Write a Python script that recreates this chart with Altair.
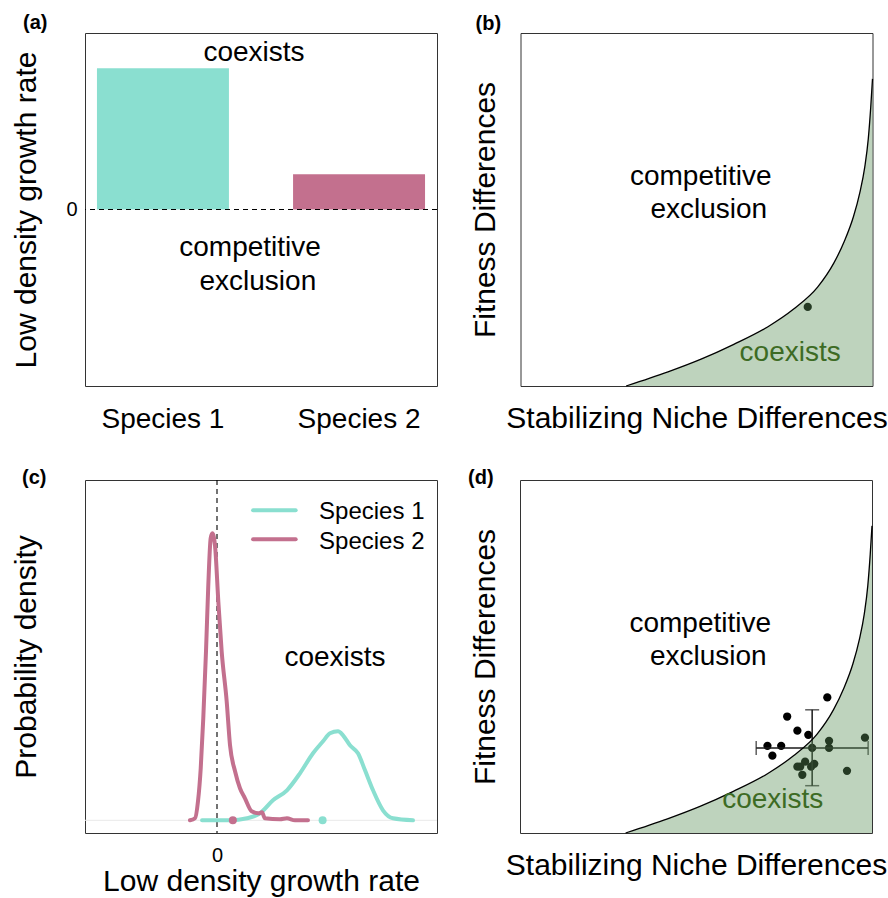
import altair as alt
import pandas as pd

FONT = "Liberation Sans"
TEAL = "#8adfd0"
PINK = "#c3708e"
SAGE = "#5c915a"       # semi-transparent fill of the coexistence region
GREEN_TXT = "#3d6b24"
INK = "#1a1a1a"

# ---------------- data ----------------
species = ["Species 1", "Species 2"]

# (a) low density growth rates
ldgr = [0.80, 0.20]
a_labels = ["coexists", "competitive", "exclusion"]
a_lx = [0.480, 0.469, 0.491]
a_ly = [0.840, -0.262, -0.454]

# (b), (d) coexistence boundary
bound_x = [0.300, 0.419, 0.513, 0.606, 0.703, 0.776, 0.844, 0.890, 0.920, 0.946, 0.964,
           0.978, 0.988, 0.995, 1.000]
bound_y = [0.000, 0.040, 0.076, 0.118, 0.168, 0.218, 0.280, 0.348, 0.410, 0.480, 0.548,
           0.620, 0.700, 0.790, 0.870]

# (b) single community
b_pt_x = [0.816]
b_pt_y = [0.224]

region_labels = ["competitive", "exclusion", "coexists"]
b_lx = [0.512, 0.535, 0.766]
b_ly = [0.569, 0.477, 0.071]
d_lx = [0.512, 0.535, 0.718]
d_ly = [0.569, 0.477, 0.071]

# (c) probability densities of low density growth rate
s1_x = [-0.170, 0.148, 0.341, 0.489, 0.636, 0.795, 0.943, 1.091, 1.205, 1.284, 1.375, 1.432,
        1.511, 1.602, 1.682, 1.773, 1.886, 2.000, 2.227]
s1_y = [0.00, 0.00, 0.02, 0.07, 0.20, 0.30, 0.47, 0.67, 0.79, 0.87, 0.89, 0.85,
        0.75, 0.67, 0.50, 0.30, 0.10, 0.02, 0.00]
s2_x = [-0.307, -0.250, -0.216, -0.185, -0.156, -0.125, -0.099, -0.072, -0.053, -0.023, 0.015,
        0.053, 0.110, 0.148, 0.205, 0.261, 0.318, 0.394, 0.470, 0.511, 0.545, 0.716, 0.795, 0.886, 1.034]
s2_y = [0.00, 0.02, 0.19, 0.52, 1.02, 1.69, 2.35, 2.82, 2.87, 2.75, 2.19,
        1.69, 1.19, 0.75, 0.49, 0.32, 0.22, 0.09, 0.07, 0.08, 0.02, 0.01, 0.02, 0.00, 0.00]
c_means = [1.20, 0.18]
c_lab_x, c_lab_y = [1.341], [1.547]
leg_y = [3.10, 2.81]
leg_ty = [3.016, 2.716]
LEG_X0, LEG_X1, LEG_TX = 0.41, 0.894, 1.16

# (d) communities
d_x = [0.873, 0.759, 0.788, 0.819, 0.703, 0.742, 0.717, 0.980, 0.878, 0.878, 0.830,
       0.796, 0.810, 0.836, 0.788, 0.827, 0.802, 0.929]
d_y = [0.384, 0.330, 0.290, 0.278, 0.247, 0.247, 0.219, 0.270, 0.261, 0.241, 0.241,
       0.188, 0.202, 0.196, 0.188, 0.188, 0.165, 0.176]
d_mean_x, d_mean_y = [0.830], [0.241]
d_x_lo, d_x_hi = [0.671], [0.989]
d_y_lo, d_y_hi = [0.134], [0.349]

W, H = 352, 353


def tag(text, dx, offset):
    return alt.TitleParams(text, anchor="start", frame="group", dx=dx, offset=offset,
                           baseline="alphabetic", fontSize=20, fontWeight="bold",
                           font=FONT, color="black")


sp_colors = alt.Scale(domain=species, range=[TEAL, PINK])

# ---------------- panel (a) ----------------
a_df = pd.DataFrame({"species": species, "rate": ldgr})
y_a = alt.Scale(domain=[-1, 1], nice=False, zero=False)
y_a_axis = alt.Axis(values=[0], title="Low density growth rate", titleFontSize=30,
                    labelFontSize=20, labelPadding=8, titlePadding=24,
                    ticks=False, tickSize=0, domain=False, grid=False)
bars = alt.Chart(a_df).mark_bar().encode(
    x=alt.X("species:N", sort=species,
            scale=alt.Scale(paddingInner=0.327, paddingOuter=0.061),
            axis=alt.Axis(title=None, labelAngle=0, labelFontSize=28, labelPadding=19,
                          ticks=False, tickSize=0, domain=False)),
    y=alt.Y("rate:Q", scale=y_a, axis=y_a_axis),
    color=alt.Color("species:N", scale=sp_colors, legend=None),
)
zero_a = alt.Chart(pd.DataFrame({"v": [0]})).mark_rule(
    strokeDash=[5, 4], color="black", strokeWidth=1
).encode(y=alt.Y("v:Q", scale=y_a, axis=y_a_axis))
text_a = alt.Chart(pd.DataFrame({"label": a_labels, "x": a_lx, "y": a_ly})).mark_text(
    fontSize=28, font=FONT, baseline="alphabetic", align="center", color="black"
).encode(
    x=alt.X("x:Q", scale=alt.Scale(domain=[0, 1], nice=False, zero=False), axis=None),
    y=alt.Y("y:Q", scale=y_a, axis=y_a_axis),
    text="label:N",
)
pa = alt.layer(bars, zero_a, text_a).resolve_scale(x="independent").properties(
    width=W, height=H, title=tag("(a)", -62, -16))

# ---------------- panels (b), (d) ----------------
xs = alt.Scale(domain=[0, 1], nice=False, zero=False)
ys = alt.Scale(domain=[0, 1], nice=False, zero=False)
bound_df = pd.DataFrame({"x": bound_x, "y": bound_y})
x_ax = alt.Axis(title="Stabilizing Niche Differences", titleFontSize=30, titlePadding=17,
                labels=False, ticks=False, domain=False, grid=False)
y_ax = alt.Axis(title="Fitness Differences", titleFontSize=30, titlePadding=20,
                labels=False, ticks=False, domain=False, grid=False)


def X(field):
    return alt.X(field, scale=xs, axis=x_ax)


def Y(field, **kw):
    return alt.Y(field, scale=ys, axis=y_ax, **kw)


def niche_panel(pt_x, pt_y, lx, ly, extra_layers, title):
    pts = alt.Chart(pd.DataFrame({"x": pt_x, "y": pt_y})).mark_circle(
        size=68, color="black", opacity=1
    ).encode(x=X("x:Q"), y=Y("y:Q"))
    area = alt.Chart(bound_df).mark_area(color=SAGE, opacity=0.4, interpolate="monotone").encode(
        x=X("x:Q"), y=Y("y:Q", stack=None))
    line = alt.Chart(bound_df).mark_line(color="black", strokeWidth=1.3, interpolate="monotone").encode(
        x=X("x:Q"), y=Y("y:Q"))
    lab_df = pd.DataFrame({"label": region_labels, "x": lx, "y": ly})
    txt_black = alt.Chart(lab_df).transform_filter(
        alt.datum.label != "coexists"
    ).mark_text(fontSize=28, font=FONT, baseline="alphabetic", align="center", color="black").encode(
        x=X("x:Q"), y=Y("y:Q"), text="label:N")
    txt_green = alt.Chart(lab_df).transform_filter(
        alt.datum.label == "coexists"
    ).mark_text(fontSize=28, font=FONT, baseline="alphabetic", align="center", color=GREEN_TXT).encode(
        x=X("x:Q"), y=Y("y:Q"), text="label:N")
    layers = [pts] + extra_layers + [area, line, txt_black, txt_green]
    return alt.layer(*layers).properties(width=W, height=H, title=title)


pb = niche_panel(b_pt_x, b_pt_y, b_lx, b_ly, [], tag("(b)", -45, -16.5))

eb_df = pd.DataFrame({"mx": d_mean_x, "my": d_mean_y, "xlo": d_x_lo, "xhi": d_x_hi,
                      "ylo": d_y_lo, "yhi": d_y_hi})
eb_h = alt.Chart(eb_df).mark_rule(color=INK, strokeWidth=1.5).encode(
    x=X("xlo:Q"), x2="xhi:Q", y=Y("my:Q"))
eb_v = alt.Chart(eb_df).mark_rule(color=INK, strokeWidth=1.5).encode(
    x=X("mx:Q"), y=Y("ylo:Q"), y2="yhi:Q")
cap_l = alt.Chart(eb_df).mark_tick(color=INK, orient="vertical", size=14, thickness=1.5).encode(
    x=X("xlo:Q"), y=Y("my:Q"))
cap_r = alt.Chart(eb_df).mark_tick(color=INK, orient="vertical", size=14, thickness=1.5).encode(
    x=X("xhi:Q"), y=Y("my:Q"))
cap_b = alt.Chart(eb_df).mark_tick(color=INK, orient="horizontal", size=14, thickness=1.5).encode(
    x=X("mx:Q"), y=Y("ylo:Q"))
cap_t = alt.Chart(eb_df).mark_tick(color=INK, orient="horizontal", size=14, thickness=1.5).encode(
    x=X("mx:Q"), y=Y("yhi:Q"))

pd_ = niche_panel(d_x, d_y, d_lx, d_ly, [eb_h, eb_v, cap_l, cap_r, cap_b, cap_t],
                  tag("(d)", -52, -23.5))

# ---------------- panel (c) ----------------
xc = alt.Scale(domain=[-1.5, 2.5], nice=False, zero=False)
yc = alt.Scale(domain=[-0.127, 3.403], nice=False, zero=False)
x_ax_c = alt.Axis(values=[0], title="Low density growth rate", titleFontSize=30, titlePadding=1,
                  labelFontSize=20, labelPadding=12.5, ticks=False, tickSize=0, domain=False, grid=False)
y_ax_c = alt.Axis(title="Probability density", titleFontSize=30, titlePadding=43.5,
                  labels=False, ticks=False, domain=False, grid=False)


def XC(field):
    return alt.X(field, scale=xc, axis=x_ax_c)


def YC(field):
    return alt.Y(field, scale=yc, axis=y_ax_c)


base_rule = alt.Chart(pd.DataFrame({"v": [0]})).mark_rule(color="#e9e9e9", strokeWidth=1).encode(
    y=YC("v:Q"))
dash_rule = alt.Chart(pd.DataFrame({"v": [0]})).mark_rule(
    color="black", strokeWidth=1.1, strokeDash=[5, 4]).encode(x=XC("v:Q"))

s1_df = pd.DataFrame({"x": s1_x, "y": s1_y, "species": species[0]})
s2_df = pd.DataFrame({"x": s2_x, "y": s2_y, "species": species[1]})
line1 = alt.Chart(s1_df).mark_line(strokeWidth=4, interpolate="monotone", strokeCap="round",
                                   strokeJoin="round").encode(
    x=XC("x:Q"), y=YC("y:Q"), color=alt.Color("species:N", scale=sp_colors, legend=None))
line2 = alt.Chart(s2_df).mark_line(strokeWidth=4, interpolate="monotone", strokeCap="round",
                                   strokeJoin="round").encode(
    x=XC("x:Q"), y=YC("y:Q"), color=alt.Color("species:N", scale=sp_colors, legend=None))
mean_df = pd.DataFrame({"species": species, "m": c_means, "z": [0, 0]})
means = alt.Chart(mean_df).mark_circle(size=64, opacity=1).encode(
    x=XC("m:Q"), y=YC("z:Q"), color=alt.Color("species:N", scale=sp_colors, legend=None))
leg_df = pd.DataFrame({"species": species, "y": leg_y, "ty": leg_ty,
                       "x0": [LEG_X0] * 2, "x1": [LEG_X1] * 2, "tx": [LEG_TX] * 2})
leg_lines = alt.Chart(leg_df).mark_rule(strokeWidth=4, strokeCap="round").encode(
    x=XC("x0:Q"), x2="x1:Q", y=YC("y:Q"),
    color=alt.Color("species:N", scale=sp_colors, legend=None))
leg_text = alt.Chart(leg_df).mark_text(fontSize=24, font=FONT, align="left", baseline="alphabetic",
                                       color="black").encode(
    x=XC("tx:Q"), y=YC("ty:Q"), text="species:N")
coex_c = alt.Chart(pd.DataFrame({"label": ["coexists"], "x": c_lab_x, "y": c_lab_y})).mark_text(
    fontSize=28, font=FONT, align="center", baseline="alphabetic", color="black").encode(
    x=XC("x:Q"), y=YC("y:Q"), text="label:N")

pc = alt.layer(base_rule, dash_rule, line1, line2, means, leg_lines, leg_text, coex_c).properties(
    width=W, height=H, title=tag("(c)", -63, -24.5))

# ---------------- layout ----------------
top = alt.hconcat(pa, pb, spacing=31.5)
bottom = alt.hconcat(pc, pd_, spacing=29)
chart = alt.vconcat(top, bottom, spacing=33).properties(
    padding={"left": 11, "top": 12, "right": 0, "bottom": 0},
    background="white",
).configure(font=FONT).configure_view(
    stroke="#333333", strokeWidth=1
).configure_axis(
    labelColor="black", titleColor="black", titleFontWeight="normal",
    labelFont=FONT, titleFont=FONT,
)

chart.save("out.html", embed_options={"renderer": "svg", "actions": False})
